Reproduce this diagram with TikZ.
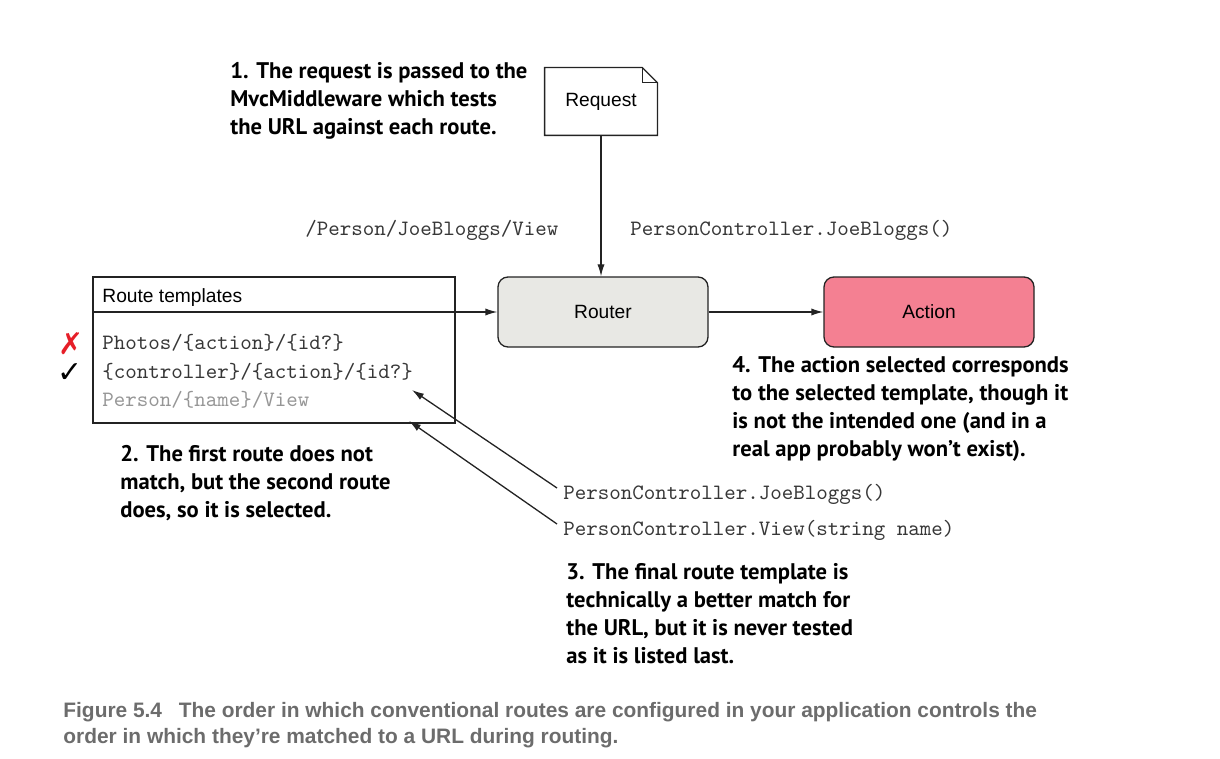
\documentclass[tikz,border=0pt]{standalone}
\usepackage{fontspec}
\setmainfont{Liberation Sans}
\newfontfamily\annfont{PT Sans}
\newfontfamily\capfont{Liberation Sans}
\newfontfamily\symfont{DejaVu Sans}
\usetikzlibrary{arrows.meta,calc}
\definecolor{routerfill}{RGB}{232,232,228}
\definecolor{actionfill}{RGB}{244,128,146}
\definecolor{linecol}{RGB}{35,35,35}
\definecolor{codecol}{RGB}{55,55,55}
\definecolor{fadecol}{RGB}{150,150,150}
\definecolor{capcol}{RGB}{108,108,108}
\definecolor{crossred}{RGB}{230,30,40}
\tikzset{
  arr/.style={draw=linecol, line width=0.65pt, -{Latex[length=6pt,width=3.6pt]}},
  procbox/.style={draw=linecol, line width=0.65pt, rounded corners=5pt, minimum width=105pt, minimum height=35pt, font=\fontsize{9.6}{11}\selectfont},
  ann/.style={anchor=north west, inner sep=0pt, align=left, font=\annfont\bfseries\fontsize{11.3}{14}\selectfont},
  code/.style={inner sep=0pt, anchor=west, text=codecol, font=\ttfamily\fontsize{10.95}{12}\selectfont},
  plain/.style={inner sep=0pt, anchor=west, font=\fontsize{9.6}{11}\selectfont},
}
\begin{document}
\begin{tikzpicture}[x=0.5pt,y=-0.5pt]
\useasboundingbox (0,0) rectangle (1220,759);

% Request (document with folded corner)
\node[minimum width=56pt, minimum height=33.5pt, inner sep=0pt] (req) at (601,101.5) {};
\draw[linecol, line width=0.65pt, fill=white]
  (req.north west) -- ($(req.north east)+(-15,0)$) -- ($(req.north east)+(0,15)$)
  -- (req.south east) -- (req.south west) -- cycle;
\draw[linecol, line width=0.65pt]
  ($(req.north east)+(-15,0)$) -- ($(req.north east)+(-15,15)$) -- ($(req.north east)+(0,15)$);
\node[font=\fontsize{9.6}{11}\selectfont, inner sep=0pt] (reqtext) at (req.center) {Request};

% Router and Action
\node[procbox, fill=routerfill] (router) at (603,312) {Router};
\node[procbox, fill=actionfill] (action) at (929,312) {Action};

% Route templates box
\node[draw=linecol, line width=0.65pt, minimum width=181pt, minimum height=73pt, inner sep=0pt] (rt) at (274,350) {};
\node[plain] (rthead) at (102,298) {Route templates};
\node[code] (r1) at (102,343) {Photos/\{action\}/\{id?\}};
\node[code] (r2) at (102,372) {\{controller\}/\{action\}/\{id?\}};
\node[code, text=fadecol] (r3) at (102,400) {Person/\{name\}/View};
\node[inner sep=0pt, text=crossred, font=\symfont\fontsize{15}{15}\selectfont] (cross) at (71,344) {✗};
\node[inner sep=0pt, font=\symfont\fontsize{15}{15}\selectfont] (tick) at (70,373) {✓};

% Connectors
\draw[arr] (req.south) -- (req.south |- router.north);
\draw[arr] (rt.west |- router.west) -- (router.west);
\draw[arr] (router.east) -- (action.west);

% URL and controller labels
\node[code] (url) at (305,230) {/Person/JoeBloggs/View};
\node[code] (ctl) at (630,230) {PersonController.JoeBloggs()};
\node[code] (c1) at (563,494) {PersonController.JoeBloggs()};
\node[code] (c2) at (563,530) {PersonController.View(string name)};
\coordinate (t1) at (412,390);
\coordinate (t2) at (409,421);
\draw[arr] ($(c1.west)+(-6,-6)$) -- (t1);
\draw[arr] ($(c2.west)+(-6,-6)$) -- (t2);

% Annotations
\node[ann] (a1) at (230,62) {1. The request is passed to the\\MvcMiddleware which tests\\the URL against each route.};
\node[ann] (a2) at (120,445) {2. The first route does not\\match, but the second route\\does, so it is selected.};
\node[ann] (a3) at (566,563) {3. The final route template is\\technically a better match for\\the URL, but it is never tested\\as it is listed last.};
\node[ann] (a4) at (732,356) {4. The action selected corresponds\\to the selected template, though it\\is not the intended one (and in a\\real app probably won’t exist).};

% Caption
\node[anchor=north west, inner sep=0pt, align=left, text=capcol, font=\capfont\bfseries\fontsize{10.45}{13}\selectfont] (cap) at (63,702)
  {Figure 5.4\hspace{0.8em}The order in which conventional routes are configured in your application controls the\\order in which they’re matched to a URL during routing.};
\end{tikzpicture}
\end{document}
